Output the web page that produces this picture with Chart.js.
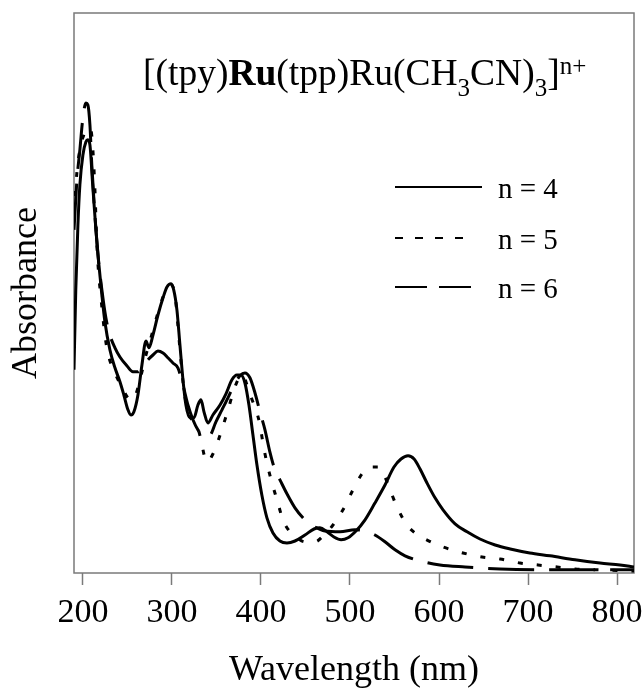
<!DOCTYPE html>
<html>
<head>
<meta charset="utf-8">
<script src="https://cdn.jsdelivr.net/npm/chart.js@4/dist/chart.umd.min.js"></script>
<style>
  html, body { margin: 0; padding: 0; background: #ffffff; }
  canvas { display: block; }
</style>
</head>
<body>
<canvas id="spectra" width="644" height="691"></canvas>
<script>
// UV-Vis spectra of [(tpy)Ru(tpp)Ru(CH3CN)3]n+ at three oxidation states
const wavelengthTicks = [200, 300, 400, 500, 600, 700, 800];
const seriesLabels = ['n = 4', 'n = 5', 'n = 6'];

// n = 4 (solid)
const lambdaN4 = [190, 192, 194.4, 196.6, 200, 203.4, 205.6, 207.9, 211, 214.6, 218, 221.3, 224.7, 230.3, 236, 241.6, 246, 250.6, 254, 257.3,
  261.8, 266.3, 270.8, 274.2, 278.7, 284.3, 290, 294.4, 299, 302, 305.6, 309, 312.4, 315.7, 320.2, 324.7, 329.2, 332.6, 336, 340.4,
  346, 354, 360.7, 367.4, 373, 377.5, 382, 386.5, 391, 395.5, 401, 406.7, 413.5, 421.3, 429.2, 438.2, 449.4, 459.6, 466.3, 474.2,
  482, 490, 497.8, 506.7, 516.9, 528, 539.3, 549.4, 557.3, 565.2, 572, 578.7, 586.5, 595.5, 604.5, 618, 631.5, 646, 663, 680,
  702, 724.7, 752.8, 780.9, 803.4, 819];
const absN4 = [0.508, 0.708, 0.870, 0.970, 1.045, 1.078, 1.083, 1.070, 0.970, 0.858, 0.770, 0.695, 0.628, 0.558, 0.513, 0.478, 0.445, 0.408, 0.395, 0.403,
  0.445, 0.520, 0.580, 0.563, 0.595, 0.645, 0.688, 0.715, 0.723, 0.708, 0.658, 0.570, 0.483, 0.420, 0.388, 0.388, 0.420, 0.433, 0.403, 0.375,
  0.395, 0.420, 0.448, 0.483, 0.495, 0.495, 0.475, 0.420, 0.345, 0.270, 0.195, 0.138, 0.100, 0.080, 0.075, 0.080, 0.095, 0.110, 0.113, 0.103,
  0.090, 0.083, 0.088, 0.105, 0.133, 0.175, 0.220, 0.265, 0.285, 0.293, 0.285, 0.260, 0.225, 0.188, 0.158, 0.123, 0.103, 0.085, 0.070, 0.060,
  0.050, 0.043, 0.033, 0.025, 0.020, 0.015];

// n = 5 (short dashes)
const lambdaN5 = [190, 193.3, 196.6, 201, 205.6, 209, 211.2, 213.5, 215.7, 218, 220.2, 222.5, 224.7, 228, 236, 243.8, 250.6, 256.2, 261.8, 266.3,
  270.8, 276.4, 282, 287.6, 293.3, 299, 303.4, 306.7, 310, 313.5, 318, 322.5, 328, 332.6, 337, 340.4, 345, 349.4, 356, 363,
  369.7, 375.3, 379.8, 384.3, 390, 394.4, 398.9, 402.2, 406.7, 412.4, 418, 424.7, 432.6, 440.4, 449.4, 460.7, 470.8, 480.9, 492.1, 503.4,
  513.5, 522.5, 531.5, 538.2, 545, 552.8, 564, 574.2, 584.3, 604.5, 627, 648.3, 668.5, 691, 711.2, 732.6, 752.8, 781, 819];
const absN5 = [0.895, 1.003, 1.058, 1.095, 1.113, 1.108, 1.058, 0.958, 0.820, 0.740, 0.690, 0.638, 0.595, 0.550, 0.500, 0.465, 0.438, 0.433, 0.463, 0.503,
  0.545, 0.588, 0.633, 0.675, 0.708, 0.720, 0.695, 0.620, 0.533, 0.458, 0.403, 0.383, 0.370, 0.333, 0.288, 0.278, 0.293, 0.315, 0.358, 0.408,
  0.458, 0.488, 0.495, 0.470, 0.433, 0.408, 0.370, 0.325, 0.275, 0.225, 0.183, 0.133, 0.103, 0.088, 0.078, 0.078, 0.095, 0.120, 0.158, 0.208,
  0.248, 0.265, 0.265, 0.245, 0.208, 0.165, 0.120, 0.098, 0.085, 0.065, 0.050, 0.040, 0.035, 0.025, 0.020, 0.015, 0.010, 0.008, 0.005];

// n = 6 (long dashes)
const lambdaN6 = [190, 193.3, 196.6, 200, 203.4, 205.6, 207.9, 210, 213.5, 216.9, 221.3, 225.8, 230.3, 236, 241.6, 249.4, 256.2, 261.8, 267.4, 273,
  278.7, 284.3, 290, 295.5, 301.1, 306.7, 312.4, 318, 323.6, 329.2, 336, 342.7, 349.4, 356.2, 362.9, 369.7, 376.4, 382, 387.6, 393.3,
  398.9, 404.5, 410, 415.7, 421.3, 429.2, 438.2, 449.4, 460.7, 471.9, 488.8, 505.6, 516.9, 528, 539.3, 550.6, 561.8, 578.7, 601, 629.2,
  668.5, 724.7, 781, 819];
const absN6 = [0.858, 0.983, 1.058, 1.138, 1.175, 1.170, 1.120, 1.020, 0.895, 0.795, 0.708, 0.638, 0.595, 0.563, 0.540, 0.518, 0.503, 0.503, 0.518, 0.533,
  0.545, 0.555, 0.550, 0.538, 0.525, 0.513, 0.470, 0.420, 0.383, 0.358, 0.343, 0.345, 0.378, 0.408, 0.438, 0.470, 0.493, 0.500, 0.488, 0.450,
  0.403, 0.358, 0.303, 0.258, 0.233, 0.198, 0.163, 0.133, 0.115, 0.105, 0.103, 0.108, 0.105, 0.095, 0.078, 0.058, 0.043, 0.030, 0.020, 0.015,
  0.010, 0.008, 0.008, 0.008];

const SERIF = '"Liberation Serif", "Times New Roman", Times, serif';
const FRAME = '#7a7a7a';

function toPoints(xs, ys) {
  return xs.map((x, i) => ({ x: x, y: ys[i] }));
}

const lineStyles = [
  { dash: [], legendDash: [] },
  { dash: [5, 14], legendDash: [8, 12] },
  { dash: [46, 15], legendDash: [32, 12] }
];

const datasets = [
  toPoints(lambdaN4, absN4),
  toPoints(lambdaN5, absN5),
  toPoints(lambdaN6, absN6)
].map((pts, i) => ({
  label: seriesLabels[i],
  data: pts,
  borderColor: '#000000',
  borderWidth: 3,
  borderDash: lineStyles[i].dash,
  borderCapStyle: 'butt',
  pointRadius: 0,
  fill: false,
  cubicInterpolationMode: 'monotone'
}));

// Plot frame drawn around the chart area
const framePlugin = {
  id: 'frame',
  beforeDatasetsDraw(chart) {
    const { ctx, chartArea: a } = chart;
    ctx.save();
    ctx.strokeStyle = FRAME;
    ctx.lineWidth = 1.5;
    ctx.strokeRect(a.left, a.top, a.right - a.left, a.bottom - a.top);
    ctx.restore();
  }
};

// Formula heading with bold metal centre, subscripts and superscript
const formulaPlugin = {
  id: 'formula',
  afterDatasetsDraw(chart) {
    const { ctx, chartArea: a } = chart;
    const parts = [
      { t: '[(tpy)' }, { t: 'Ru', bold: true }, { t: '(tpp)Ru(CH' }, { t: '3', sub: true },
      { t: 'CN)' }, { t: '3', sub: true }, { t: ']' }, { t: 'n+', sup: true }
    ];
    let x = a.left + 69;
    const base = a.top + 72;
    ctx.save();
    ctx.fillStyle = '#000';
    ctx.textBaseline = 'alphabetic';
    ctx.textAlign = 'left';
    parts.forEach(p => {
      const size = (p.sub || p.sup) ? 25 : 37.5;
      ctx.font = (p.bold ? 'bold ' : '') + size + 'px ' + SERIF;
      const y = base + (p.sub ? 11 : p.sup ? -11 : 0);
      ctx.fillText(p.t, x, y);
      x += ctx.measureText(p.t).width;
    });
    ctx.restore();
  }
};

// Legend with line samples placed inside the plot
const keyPlugin = {
  id: 'key',
  afterDatasetsDraw(chart) {
    const { ctx, chartArea: a } = chart;
    const rows = [
      { y: a.top + 174, len: 87 },
      { y: a.top + 225, len: 72 },
      { y: a.top + 274, len: 77 }
    ];
    const x0 = a.left + 321;
    ctx.save();
    chart.data.datasets.forEach((ds, i) => {
      const r = rows[i];
      ctx.strokeStyle = '#000';
      ctx.lineWidth = 2;
      ctx.setLineDash(lineStyles[i].legendDash);
      ctx.beginPath();
      ctx.moveTo(x0, r.y);
      ctx.lineTo(x0 + r.len, r.y);
      ctx.stroke();
      ctx.setLineDash([]);
      ctx.fillStyle = '#000';
      ctx.font = '29px ' + SERIF;
      ctx.textBaseline = 'alphabetic';
      ctx.textAlign = 'left';
      ctx.fillText(ds.label, a.left + 424, r.y + 11);
    });
    ctx.restore();
  }
};

new Chart(document.getElementById('spectra'), {
  type: 'line',
  data: { datasets: datasets },
  plugins: [framePlugin, formulaPlugin, keyPlugin],
  options: {
    responsive: false,
    animation: false,
    devicePixelRatio: 1,
    layout: { padding: { top: 13, right: 10, left: 0, bottom: 0 } },
    plugins: { legend: { display: false }, tooltip: { enabled: false } },
    scales: {
      x: {
        type: 'linear',
        min: 190,
        max: 819,
        afterFit(scale) {
          scale.height = 118;
          scale.paddingLeft = 0;
          scale.paddingRight = 0;
        },
        afterBuildTicks(scale) { scale.ticks = wavelengthTicks.map(v => ({ value: v })); },
        border: { display: false },
        grid: {
          display: true,
          drawOnChartArea: false,
          drawTicks: true,
          tickLength: 12,
          tickWidth: 1.5,
          tickColor: FRAME
        },
        ticks: {
          color: '#000',
          padding: 8,
          maxRotation: 0,
          autoSkip: false,
          font: { family: SERIF, size: 34 },
          callback: v => String(v)
        },
        title: {
          display: true,
          text: 'Wavelength (nm)',
          color: '#000',
          font: { family: SERIF, size: 36, lineHeight: 1 },
          padding: { top: 0, bottom: 2 }
        }
      },
      y: {
        min: 0,
        max: 1.4,
        afterFit(scale) {
          scale.width = 74;
          scale.paddingTop = 0;
          scale.paddingBottom = 0;
        },
        border: { display: false },
        grid: { display: false },
        ticks: { display: false },
        title: {
          display: true,
          text: 'Absorbance',
          color: '#000',
          font: { family: SERIF, size: 36, lineHeight: 1 },
          padding: { top: 9, bottom: 0 }
        }
      }
    }
  }
});
</script>
</body>
</html>
